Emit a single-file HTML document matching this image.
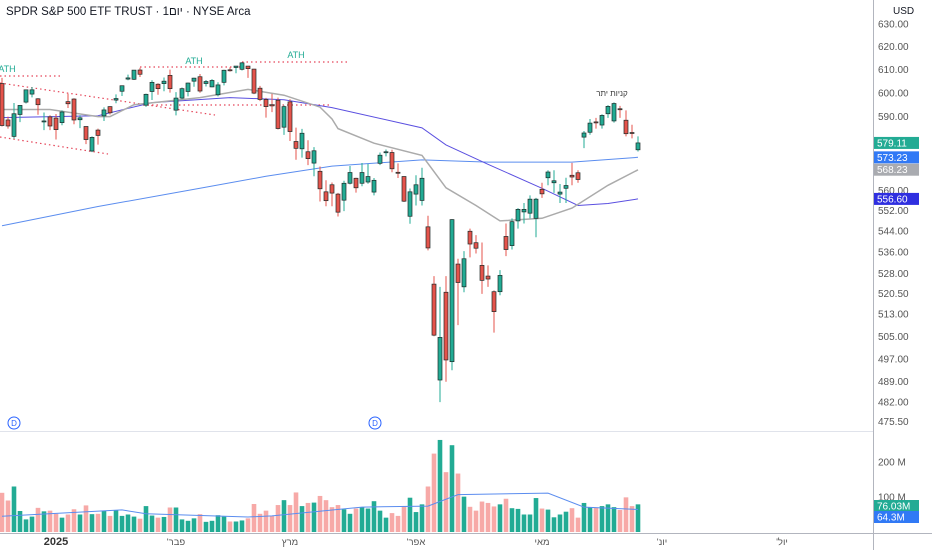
<!DOCTYPE html>
<html><head><meta charset="utf-8"><style>
html,body{margin:0;padding:0;background:#fff;width:932px;height:550px;overflow:hidden}
svg{display:block;font-family:"Liberation Sans","Noto Sans CJK SC",sans-serif}
</style></head><body>
<svg id="chart" width="932" height="550" viewBox="0 0 932 550">
<rect x="0" y="0" width="932" height="550" fill="#fff"/>
<text x="6" y="15" font-size="11.5" fill="#131722">SPDR S&amp;P 500 ETF TRUST · 1יום · NYSE Arca</text>
<line x1="873.5" y1="0" x2="873.5" y2="550" stroke="#b2b5be"/>
<line x1="0" y1="431.5" x2="873" y2="431.5" stroke="#e0e3eb"/>
<line x1="0" y1="533.5" x2="932" y2="533.5" stroke="#b2b5be"/>
<text x="893" y="14" font-size="10" fill="#131722">USD</text>
<g id="g-trend"></g><g id="g-ma"></g><g id="g-candles"></g><g id="g-vol"></g><g id="g-axis"></g>
<text x="612" y="96" font-size="8" fill="#333" text-anchor="middle">קניות יתר</text>
<g><circle cx="14" cy="423" r="6" fill="#fff" stroke="#2962ff"/><text x="14" y="426" font-size="8" fill="#2962ff" text-anchor="middle">D</text></g>
<g><circle cx="375" cy="423" r="6" fill="#fff" stroke="#2962ff"/><text x="375" y="426" font-size="8" fill="#2962ff" text-anchor="middle">D</text></g>
</svg>
<script>
const opens=[604.0,588.6,581.8,590.9,596.1,599.5,597.5,587.9,589.9,589.4,587.5,596.3,597.4,588.7,585.9,575.8,584.4,590.3,594.2,596.96,600.7,605.9,605.8,609.8,594.8,600.6,603.7,603.96,607.5,592.7,597.8,600.6,605.0,606.9,604.0,602.55,599.2,604.5,609.9,610.9,610.1,611.5,610.2,602.0,597.2,595.0,596.9,585.6,596.2,579.7,576.7,575.5,570.9,567.6,559.4,562.2,558.5,556.1,562.8,564.8,562.8,563.3,559.3,570.8,575.3,575.2,567.2,565.5,549.8,558.5,556.0,545.7,524.0,489.6,521.0,496.0,531.5,523.0,544.0,539.6,531.0,527.0,521.2,521.2,542.0,538.5,548.0,551.5,551.0,549.0,560.4,565.0,563.0,558.5,560.8,566.0,567.0,581.5,583.5,587.8,586.5,591.2,588.2,593.3,588.5,583.4,576.3];
const highs=[606.4,590.0,595.7,594.9,601.3,602.5,597.8,591.7,590.6,591.1,592.6,599.7,597.75,590.6,585.9,581.8,585.0,593.9,594.35,599.36,603.1,607.8,609.75,610.8,599.7,605.4,604.1,606.6,609.96,600.3,602.3,604.4,606.45,608.1,605.5,605.86,604.55,609.9,610.99,611.5,613.2,611.5,610.3,603.0,597.9,599.6,598.0,594.7,597.3,585.4,584.9,580.2,577.4,569.5,564.0,563.1,559.0,563.8,569.7,565.0,570.95,570.6,564.9,575.2,576.4,576.3,570.8,565.6,560.7,566.0,569.0,550.0,527.0,523.0,527.0,548.7,533.5,536.4,545.0,542.5,539.7,531.0,521.7,529.2,547.0,549.0,553.0,555.0,558.0,557.0,563.0,568.0,568.0,562.5,565.0,571.0,568.0,584.0,589.0,589.5,591.0,594.8,596.0,594.5,592.6,586.6,581.8];
const lows=[585.9,585.0,580.9,587.7,595.5,598.1,590.8,584.4,584.4,580.5,586.4,593.6,586.8,585.2,578.6,575.35,578.4,588.2,590.9,595.6,598.7,605.4,605.5,606.8,594.1,597.0,599.2,600.7,600.1,590.5,597.3,598.5,602.6,600.05,602.7,602.4,598.5,603.2,609.1,608.4,609.6,606.4,599.5,596.5,589.56,591.9,584.65,582.4,579.9,572.25,573.1,570.1,565.6,555.6,553.7,553.7,549.7,551.8,562.35,559.1,561.6,562.6,558.0,570.1,573.6,567.2,564.9,555.4,546.9,554.0,554.0,536.7,505.0,482.0,489.0,493.0,509.0,521.0,534.0,535.5,520.4,523.0,506.3,519.9,534.5,537.0,545.0,547.0,549.0,541.7,557.0,562.0,559.0,555.0,555.0,562.0,563.0,577.0,582.5,585.0,585.0,589.5,587.5,589.5,581.8,581.0,575.6];
const closes=[586.3,586.1,591.2,594.7,601.3,601.3,595.0,588.2,586.1,584.6,591.95,595.4,588.6,589.5,580.5,581.4,582.2,592.8,591.6,597.6,603.05,606.4,609.75,607.97,599.4,604.5,601.8,605.0,601.8,597.8,601.8,604.2,606.3,600.8,604.85,605.3,603.4,609.7,609.7,611.5,612.9,610.4,599.9,597.2,594.2,594.5,585.05,594.2,583.8,576.9,583.1,572.7,575.9,560.6,555.9,558.9,551.4,562.8,567.1,561.0,567.1,565.5,563.98,574.1,575.5,568.6,567.1,555.7,559.4,562.2,564.8,537.6,505.4,504.6,496.6,548.5,524.6,533.5,539.1,537.5,525.4,525.9,513.9,527.25,537.0,547.7,552.5,552.5,556.5,556.5,558.6,567.3,563.8,559.3,561.9,565.3,564.3,583.2,587.3,587.4,590.5,594.3,595.5,592.9,582.9,583.1,579.11];
const volumes=[112,90,130,60,36,44,69,59,61,52,41,50,65,50,76,51,52,61,46,62,46,50,44,38,74,47,41,43,70,70,36,32,39,51,29,32,48,44,30,30,33,39,80,52,61,46,77,91,77,113,74,83,84,103,91,71,77,65,52,67,70,67,88,61,41,54,46,73,98,57,79,130,224,263,171,248,167,101,72,61,87,83,73,79,95,68,66,50,50,97,67,64,42,50,58,68,41,83,71,69,74,79,71,63,99,74,79];
const ma20Idx=[0,8,16,18,22,33,41,47,53,55,56,62,70,74,79,83,90,95,101,106];
const ma20Val=[593,593,590,590,595,598,601.5,599,594,589,585,579,574,561,554,548,549,553,562,568.2];
const ma50Idx=[0,16,25,38,47,55,70,74,81,90,96,101,106];
const ma50Val=[589.6,590.4,595.9,598,597.1,593.8,585.3,578.3,570.4,560.8,554,554.8,556.6];
const ma200Idx=[0,16,33,44,55,70,81,95,106];
const ma200Val=[546.1,553.6,560.8,565.6,569.7,572.2,571.3,571.3,573.23];
const volMaIdx=[0,20,24,41,45,60,71,76,91,97,106];
const volMaVal=[45,63,52,43,46,71,74,107,111,71,64.3];
const priceTicks=[630,620,610,600,590,560,552,544,536,528,520.5,513,505,497,489,482,475.5];
const volTicks=[200,100];
const monthLabels=["2025","'פבר","מרץ","'אפר","מאי","'יונ","'יול"];
const monthIdx=[9,29,48,69,90,110,130];

const NS="http://www.w3.org/2000/svg";
const xOf=i=>2+i*6;
const yOf=p=>24+1412*Math.log(630/p);
const yVol=v=>532-v*0.35;
function mk(tag,attrs,parent){const e=document.createElementNS(NS,tag);for(const k in attrs)e.setAttribute(k,attrs[k]);parent.appendChild(e);return e;}
const gT=document.getElementById('g-trend'),gM=document.getElementById('g-ma'),gC=document.getElementById('g-candles'),gV=document.getElementById('g-vol'),gA=document.getElementById('g-axis');

// trend lines
const trends=[[0,76,62,76],[0,83,215,115],[0,137,108,154],[140,67,240,67],[242,62,350,62],[143,105,330,105]];
trends.forEach(t=>{const l=mk('line',{x1:t[0],y1:t[1],x2:t[2],y2:t[3],stroke:'#e5465a','stroke-width':1.2,'stroke-dasharray':'1.5 3'},gT);

});
[[7,72],[194,64],[296,58]].forEach(p=>{const t=mk('text',{x:p[0],y:p[1],'font-size':9,fill:'#22ab94','text-anchor':'middle'},gT);t.textContent='ATH';

});

function line(idx,val,yf,color,w,name,parent){const d=idx.map((i,k)=>(k?'L':'M')+xOf(i).toFixed(1)+' '+yf(val[k]).toFixed(1)).join(' ');
const p=mk('path',{d:d,fill:'none',stroke:color,'stroke-width':w},parent);

}
line(ma200Idx,ma200Val,yOf,'#5b8def',1,'ma200-line',gM);
line(ma50Idx,ma50Val,yOf,'#5a4fe0',1,'ma50-line',gM);
line(ma20Idx,ma20Val,yOf,'#ababab',1.5,'ma20-line',gM);

// candles
for(let i=0;i<opens.length;i++){const up=closes[i]>=opens[i];const x=xOf(i);
const g=mk('g',{},gC);


mk('line',{x1:x,x2:x,y1:yOf(highs[i]),y2:yOf(lows[i]),stroke:up?'#22ab94':'#e5534b','stroke-width':1},g);
const t=yOf(Math.max(opens[i],closes[i])),b=yOf(Math.min(opens[i],closes[i]));
mk('rect',{x:x-2,y:t,width:4,height:Math.max(1,b-t),fill:up?'#22ab94':'#e5534b',stroke:'#1e2a28','stroke-width':0.7},g);}

// volume
for(let i=0;i<volumes.length;i++){const up=closes[i]>=opens[i];const y=yVol(volumes[i]);
const r=mk('rect',{x:xOf(i)-2.3,y:y,width:4.6,height:532-y,fill:up?'#22ab94':'#f7a9a7'},gV);

}
line(volMaIdx,volMaVal,yVol,'#5b8def',1,'volume-ma-line',gV);

// axes
priceTicks.forEach(p=>{const t=mk('text',{x:878,y:yOf(p)+3.5,'font-size':10,fill:'#555'},gA);t.textContent=p.toFixed(2);

});
volTicks.forEach(v=>{const t=mk('text',{x:878,y:yVol(v)+3.5,'font-size':10,fill:'#555'},gA);t.textContent=v+' M';

});
function badge(y,txt,bg,name){const g=mk('g',{},gA);


mk('rect',{x:874,y:y-6,width:45,height:12,fill:bg},g);
const t=mk('text',{x:877,y:y+3.5,'font-size':10,fill:'#fff'},g);t.textContent=txt;}
badge(yOf(579.11),'579.11','#22ab94','last-price-badge');
badge(yOf(573.23),'573.23','#3179f5','ma200-badge');
badge(yOf(568.23),'568.23','#a9abb0','ma20-badge');
badge(yOf(556.6),'556.60','#2f2fe0','ma50-badge');
badge(506,'76.03M','#22ab94','volume-badge');
badge(517,'64.3M','#3179f5','volume-ma-badge');
monthLabels.forEach((m,k)=>{const t=mk('text',{x:xOf(monthIdx[k])+(k==0?0:0),y:545,'font-size':k==0?11:9.5,'font-weight':k==0?'bold':'normal',fill:k==0?'#333':'#555','text-anchor':'middle'},gA);t.textContent=m;

});
</script>
</body></html>
